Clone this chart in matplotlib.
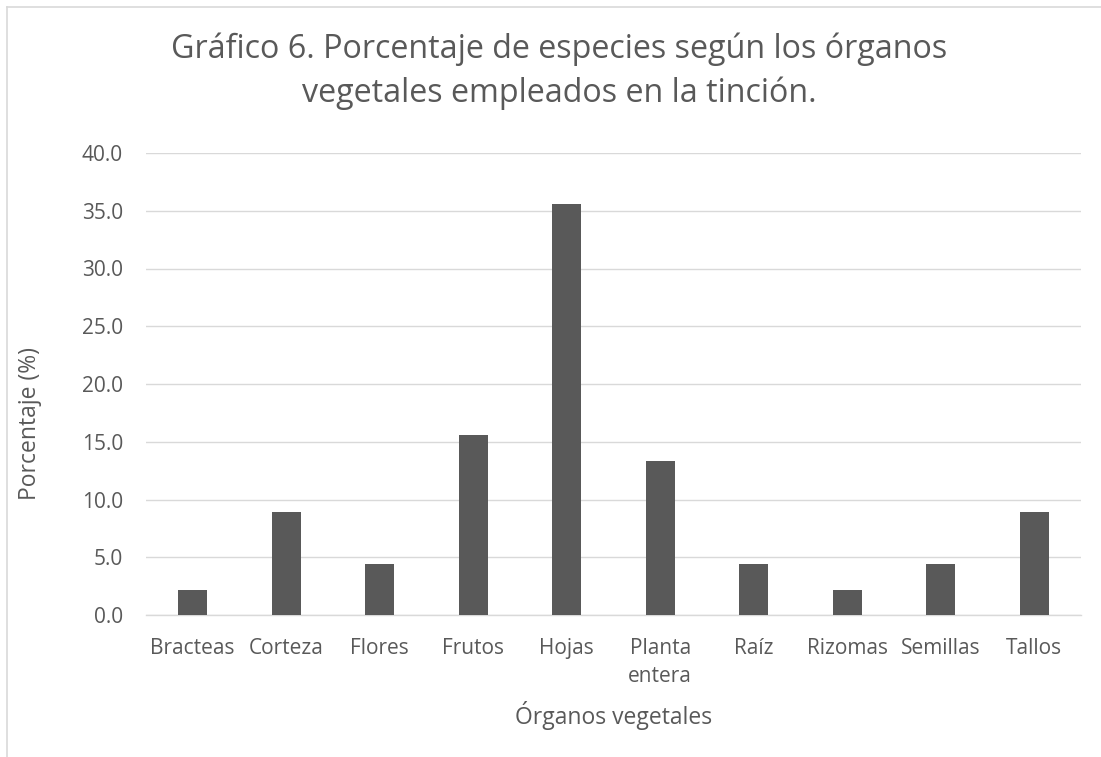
import matplotlib
matplotlib.use("Agg")
import matplotlib.pyplot as plt
from matplotlib.lines import Line2D

categories = ["Bracteas", "Corteza", "Flores", "Frutos", "Hojas", "Planta\nentera",
              "Raíz", "Rizomas", "Semillas", "Tallos"]
values = [2.2, 8.9, 4.4, 15.6, 35.6, 13.3, 4.4, 2.2, 4.4, 8.9]
yticks = [0, 5, 10, 15, 20, 25, 30, 35, 40]

TXT = "#595959"
plt.rcParams['font.family'] = ['Open Sans', 'DejaVu Sans']

W, H = 1101, 757
fig = plt.figure(figsize=(W / 100, H / 100), dpi=100)
ax = fig.add_axes([146 / W, 1 - 615 / H, (1081 - 146) / W, (615 - 153) / H])

x = range(len(categories))
ax.bar(x, values, width=0.31, color="#595959", zorder=3)
ax.set_xlim(-0.5, len(categories) - 0.5)
ax.set_ylim(0, 40)
ax.set_yticks(yticks)
ax.set_yticklabels([f"{v:.1f}" for v in yticks])
ax.set_xticks(list(x))
ax.set_xticklabels(categories, linespacing=1.42)
ax.tick_params(axis='both', length=0, colors=TXT, labelsize=15)
ax.tick_params(axis='y', pad=16.5)
ax.tick_params(axis='x', pad=16.5)
ax.grid(axis='y', color="#d9d9d9", linewidth=1, zorder=0)
for s in ["top", "right", "left"]:
    ax.spines[s].set_visible(False)
ax.spines["bottom"].set_color("#d9d9d9")
ax.spines["bottom"].set_linewidth(1)

fig.text(30 / W, 1 - 423 / H, "Porcentaje (%)", rotation=90, ha="center", va="center",
         color=TXT, fontsize=16.5)
fig.text(614 / W, 1 - 716 / H, "Órganos vegetales", ha="center", va="center",
         color=TXT, fontsize=16.5)

fig.text(559 / W, 1 - 71 / H,
         "Gráfico 6. Porcentaje de especies según los órganos\nvegetales empleados en la tinción.",
         ha="center", va="center", fontsize=23.2, color=TXT, linespacing=1.4)

# chart frame (left and top edges)
fig.add_artist(Line2D([7 / W, 7 / W], [0, 1 - 7 / H], transform=fig.transFigure,
                      color="#d9d9d9", linewidth=1.2))
fig.add_artist(Line2D([7 / W, 1], [1 - 7 / H, 1 - 7 / H], transform=fig.transFigure,
                      color="#d9d9d9", linewidth=1.2))

fig.savefig("out.png", dpi=100, facecolor="white")
